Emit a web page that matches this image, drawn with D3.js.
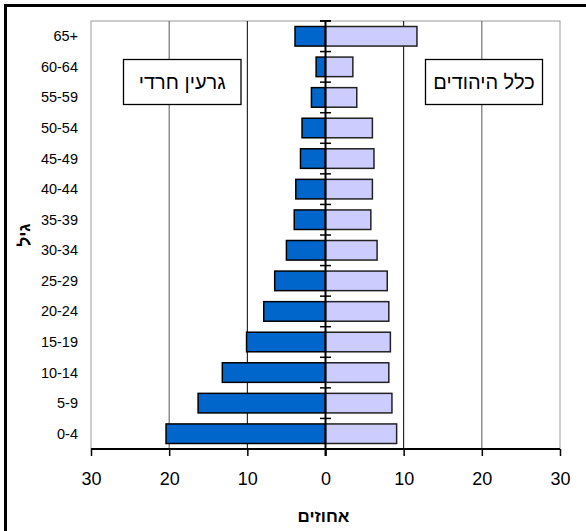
<!DOCTYPE html>
<html><head><meta charset="utf-8">
<script src="https://cdn.jsdelivr.net/npm/d3@7"></script>
<style>body{margin:0;background:#fff;}svg{display:block;font-family:Arial,"Liberation Sans",sans-serif;}</style>
</head><body>
<script>
const ageGroups = ["0-4","5-9","10-14","15-19","20-24","25-29","30-34","35-39","40-44","45-49","50-54","55-59","60-64","65+"];
const haredi = [20.4,16.3,13.2,10.1,7.9,6.5,5.0,4.0,3.8,3.2,3.0,1.8,1.2,3.9];
const allJews = [9.1,8.5,8.1,8.3,8.1,7.9,6.6,5.8,6.0,6.2,6.0,4.0,3.5,11.7];
const xTicks = [-30,-20,-10,0,10,20,30];
const leftLabel = "גרעין חרדי";
const rightLabel = "כלל היהודים";
const xTitle = "אחוזים";
const yTitle = "גיל";

const W=586,H=531;
const svg=d3.select("body").append("svg").attr("width",W).attr("height",H);
svg.append("rect").attr("width",W).attr("height",H).attr("fill","#fff");
svg.append("rect").attr("x",5.5).attr("y",5.5).attr("width",700).attr("height",700)
  .attr("fill","none").attr("stroke","#000").attr("stroke-width",3);

const L=91,R=560,T=21,B=449;
const x=d3.scaleLinear().domain([-30,30]).range([L,R]);
const y=d3.scaleBand().domain(ageGroups.slice().reverse()).range([T,B]).paddingInner(0.36).paddingOuter(0.18);
const yb=d3.scaleBand().domain(ageGroups.slice().reverse()).range([T,B]);

// plot border
svg.append("rect").attr("x",L).attr("y",T).attr("width",R-L).attr("height",B-T)
  .attr("fill","none").attr("stroke","#999").attr("stroke-width",1);
// gridlines
svg.append("g").selectAll("line").data(xTicks.filter(d=>d!==0&&Math.abs(d)!==30)).join("line")
  .attr("x1",d=>x(d)).attr("x2",d=>x(d)).attr("y1",T).attr("y2",B)
  .attr("stroke",d=>Math.abs(d)===10?"#000":"#555").attr("stroke-width",1);

// legend boxes
function box(x0,x1,txt){
  svg.append("rect").attr("x",x0).attr("y",59.5).attr("width",x1-x0).attr("height",45)
    .attr("fill","#fff").attr("stroke","#000").attr("stroke-width",1.3);
  svg.append("text").attr("x",(x0+x1)/2).attr("y",89).attr("text-anchor","middle")
    .attr("font-size",20).attr("direction","rtl").style("unicode-bidi","plaintext").text(txt);
}
box(123.5,241,leftLabel);
box(425.5,542.5,rightLabel);

// bars
svg.append("g").selectAll("rect").data(ageGroups).join("rect")
  .attr("x",(d,i)=>x(-haredi[i])).attr("width",(d,i)=>x(0)-x(-haredi[i]))
  .attr("y",d=>y(d)).attr("height",y.bandwidth())
  .attr("fill","#0066CC").attr("stroke","#000").attr("stroke-width",1.5);
svg.append("g").selectAll("rect").data(ageGroups).join("rect")
  .attr("x",x(0)).attr("width",(d,i)=>x(allJews[i])-x(0))
  .attr("y",d=>y(d)).attr("height",y.bandwidth())
  .attr("fill","#CCCCFF").attr("stroke","#222").attr("stroke-width",1.5);

// center axis
svg.append("line").attr("x1",x(0)).attr("x2",x(0)).attr("y1",T).attr("y2",B+7)
  .attr("stroke","#000").attr("stroke-width",2);
const bounds=ageGroups.map(d=>yb(d)).concat([T]);
svg.append("g").selectAll("line").data(bounds).join("line")
  .attr("x1",x(0)-5.5).attr("x2",x(0)+5.5).attr("y1",d=>d).attr("y2",d=>d)
  .attr("stroke","#000").attr("stroke-width",1.5);

// y labels
svg.append("g").selectAll("text").data(ageGroups).join("text")
  .attr("x",78).attr("y",d=>yb(d)+yb.bandwidth()/2+5).attr("text-anchor","end")
  .attr("font-size",14.5).text(d=>d);

// bottom axis
const ax=svg.append("g").attr("transform",`translate(0,${B})`)
  .call(d3.axisBottom(x).tickValues(xTicks).tickSize(7).tickFormat(d=>Math.abs(d)));
ax.select(".domain").attr("stroke","#000").attr("stroke-width",2).attr("d",`M${L},0H${R}`);
ax.selectAll(".tick line").attr("stroke","#000").attr("stroke-width",1.5);
ax.selectAll(".tick text").attr("font-size",18).attr("font-family","Arial,'Liberation Sans',sans-serif").attr("fill","#000").attr("dy",0).attr("y",35.5);

svg.append("text").attr("x",x(0)-2).attr("y",521.5).attr("text-anchor","middle")
  .attr("font-size",17).attr("font-weight","bold").text(xTitle);
svg.append("text").attr("transform","translate(30,235) rotate(-90)").attr("text-anchor","middle")
  .attr("font-size",17).attr("font-weight","bold").text(yTitle);
</script>
</body></html>
